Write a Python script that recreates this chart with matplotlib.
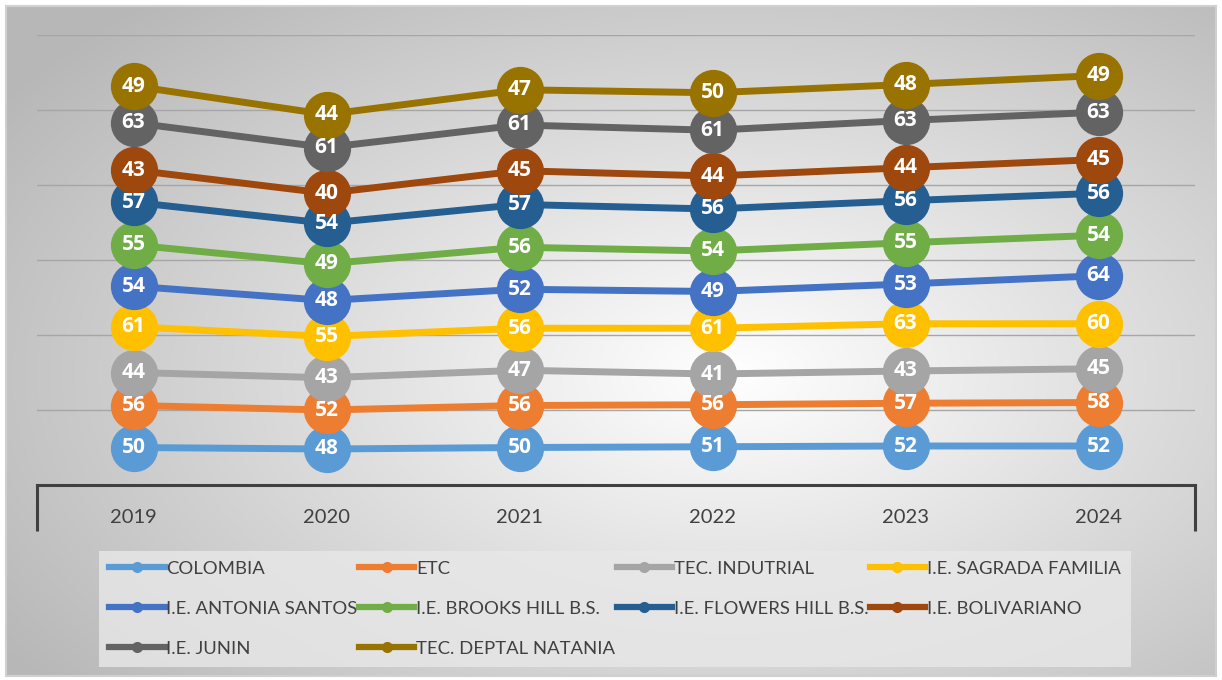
import matplotlib.pyplot as plt
import numpy as np

# datos
anios = ['2019', '2020', '2021', '2022', '2023', '2024']
series = ['COLOMBIA', 'ETC', 'TEC. INDUTRIAL', 'I.E. SAGRADA FAMILIA',
          'I.E. ANTONIA SANTOS', 'I.E. BROOKS HILL B.S.', 'I.E. FLOWERS HILL B.S.',
          'I.E. BOLIVARIANO', 'I.E. JUNIN', 'TEC. DEPTAL NATANIA']
colombia = [50, 48, 50, 51, 52, 52]
etc = [56, 52, 56, 56, 57, 58]
tec_indutrial = [44, 43, 47, 41, 43, 45]
sagrada = [61, 55, 56, 61, 63, 60]
antonia = [54, 48, 52, 49, 53, 64]
brooks = [55, 49, 56, 54, 55, 54]
flowers = [57, 54, 57, 56, 56, 56]
bolivariano = [43, 40, 45, 44, 44, 45]
junin = [63, 61, 61, 61, 63, 63]
natania = [49, 44, 47, 50, 48, 49]
valores = [colombia, etc, tec_indutrial, sagrada, antonia, brooks,
           flowers, bolivariano, junin, natania]
colores = ['#5B9BD5', '#ED7D31', '#A5A5A5', '#FFC000', '#4472C4',
           '#70AD47', '#255E91', '#9E480E', '#636363', '#997300']

plt.rcParams['font.family'] = ['Lato', 'DejaVu Sans']

fig = plt.figure(figsize=(12.22, 6.8), dpi=100)
fig.patch.set_facecolor('white')

# fondo con degradado radial
bg = fig.add_axes([6/1222, 4/680, 1210/1222, 670/680], zorder=-1)
yy, xx = np.mgrid[0:1:300j, 0:1:540j]
d = np.sqrt(((xx - 0.6) / 0.72) ** 2 + ((yy - 0.55) / 0.75) ** 2)
g = 1 - 0.28 * np.clip(d, 0, 1)
bg.imshow(np.dstack([g, g, g]), aspect='auto', extent=[0, 1, 0, 1])
bg.set_xticks([])
bg.set_yticks([])
for s in bg.spines.values():
    s.set_color('#d0d0d0')
    s.set_linewidth(1.5)

ax = fig.add_axes([37/1222, 1 - 485/680, 1158/1222, 450/680])
ax.patch.set_alpha(0)
x = np.arange(len(anios))
acum = np.zeros(len(anios))
for i, (nombre, v, c) in enumerate(zip(series, valores, colores)):
    acum = acum + np.array(v)
    ax.plot(x, acum, color=c, lw=5, marker='o', ms=33, mec=c,
            zorder=3 + i, label=nombre)
    for xi, yi, vi in zip(x, acum, v):
        ax.text(xi, yi, str(vi), ha='center', va='center', color='white',
                fontsize=15, fontweight='bold', family='Open Sans', zorder=20)

ax.set_xlim(-0.5, len(anios) - 0.5)
ax.set_ylim(0, 600)
ax.set_yticks(range(100, 601, 100))
ax.set_yticklabels([])
ax.tick_params(axis='y', length=0)
ax.grid(axis='y', color='#a6a6a6', lw=1, zorder=0)
ax.set_xticks(x)
ax.set_xticklabels(anios, fontsize=14.5, color='#404040')
ax.tick_params(axis='x', length=0, pad=17)
for s in ['top', 'left', 'right']:
    ax.spines[s].set_visible(False)
ax.spines['bottom'].set_color('#404040')
ax.spines['bottom'].set_linewidth(2.2)
for xe in [0, 1]:
    ax.plot([xe, xe], [0, -0.102], transform=ax.transAxes, clip_on=False,
            color='#404040', lw=2.2, solid_capstyle='butt')

# leyenda por filas
orden = [0, 4, 8, 1, 5, 9, 2, 6, 3, 7]
manijas = [plt.Line2D([], [], color=colores[k], lw=4.5, marker='o', ms=7)
           for k in orden]
leg = fig.legend(manijas, [series[k] for k in orden], ncol=4, mode='expand',
                 loc='lower left',
                 bbox_to_anchor=(99/1222, 1 - 667/680, 1032/1222, 122/680),
                 fontsize=13.3, frameon=True, handlelength=3.0,
                 handletextpad=0.1, labelspacing=1.3, borderaxespad=0,
                 borderpad=0.55, fancybox=False)
leg.get_frame().set_facecolor('#e8e8e8')
leg.get_frame().set_alpha(0.8)
leg.get_frame().set_linewidth(0)
for t in leg.get_texts():
    t.set_color('#404040')

plt.savefig('out.png', dpi=100)
